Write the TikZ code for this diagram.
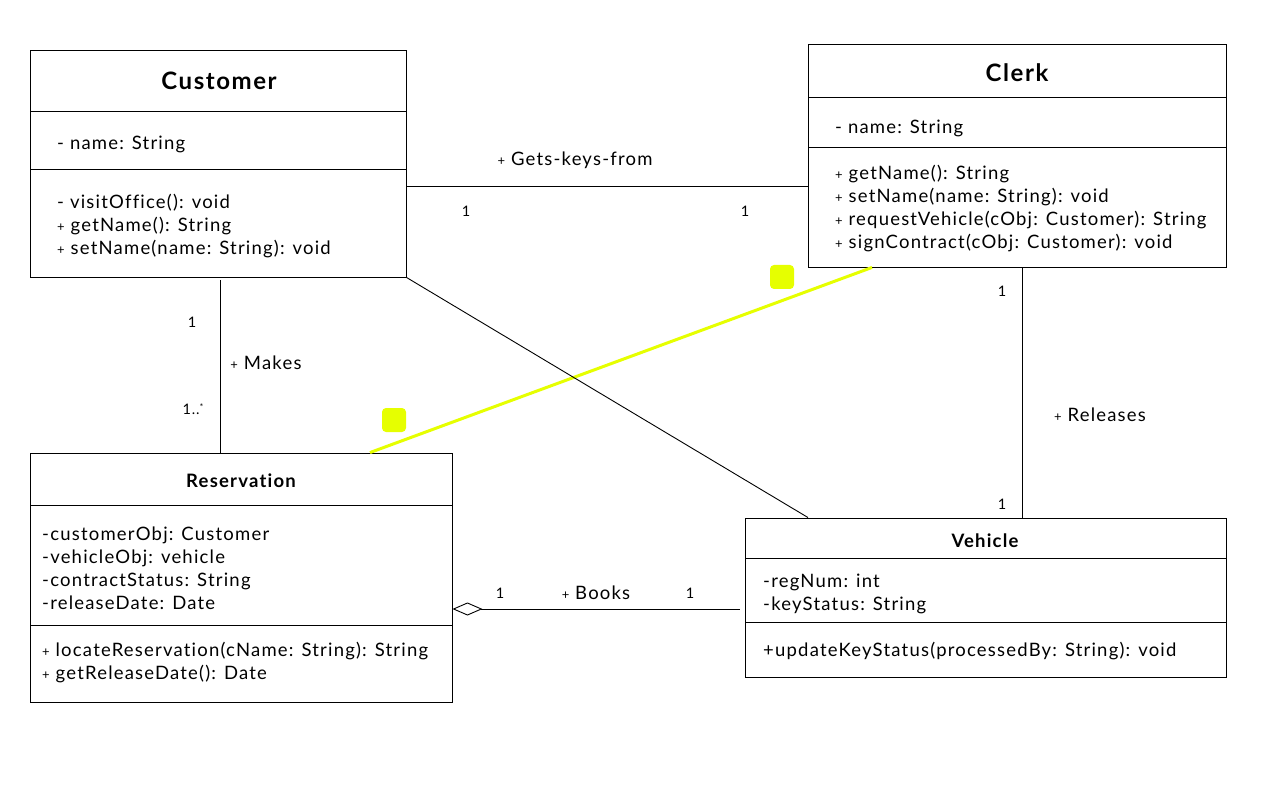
\documentclass[tikz,border=0pt]{standalone}
\usepackage{fontspec}
\setmainfont{Lato}[LetterSpace=6.5,Ligatures={NoCommon,NoRare}]
\usetikzlibrary{arrows.meta}
\definecolor{hl}{HTML}{E6FF00}
\newcommand{\pl}{{\fontsize{13}{13}\selectfont +}}
\tikzset{
  x=1pt,y=-1pt,
  classbox/.style={draw,line width=0.9pt,inner sep=0pt},
  ttl/.style={font=\fontsize{24}{24}\selectfont\bfseries},
  ttls/.style={font=\fontsize{18.5}{18.5}\selectfont\bfseries},
  txt/.style={anchor=west,inner sep=0pt,align=left,font=\fontsize{18.5}{23}\selectfont},
  mult/.style={inner sep=0pt,font=\fontsize{14.5}{14}\selectfont},
  lbl/.style={inner sep=0pt,font=\fontsize{18.5}{18}\selectfont},
  conn/.style={line width=0.9pt},
  hlsq/.style={fill=hl,rounded corners=4pt,minimum size=24pt,inner sep=0pt}
}
\begin{document}
\begin{tikzpicture}
\useasboundingbox (0,0) rectangle (1266,791);
% Customer
\node[classbox,minimum width=376pt,minimum height=227pt] (cust) at (218,163.5) {};
\draw[conn] (30,111) -- (406,111);
\draw[conn] (30,169) -- (406,169);
\node[ttl] (custT) at (219,81) {Customer};
\node[txt] (custA) at (57,144) {- name: String};
\node[txt] (custM) at (57,226) {- visitOffice(): void\\\pl\ getName(): String\\\pl\ setName(name: String): void};
% Clerk
\node[classbox,minimum width=418pt,minimum height=223pt] (clerk) at (1017,155.5) {};
\draw[conn] (808,97) -- (1226,97);
\draw[conn] (808,147) -- (1226,147);
\node[ttl] (clerkT) at (1017,73) {Clerk};
\node[txt] (clerkA) at (835,128) {- name: String};
\node[txt] (clerkM) at (835,208.5) {\pl\ getName(): String\\\pl\ setName(name: String): void\\\pl\ requestVehicle(cObj: Customer): String\\\pl\ signContract(cObj: Customer): void};
% Reservation
\node[classbox,minimum width=422pt,minimum height=249pt] (res) at (241,577.5) {};
\draw[conn] (30,505) -- (452,505);
\draw[conn] (30,625) -- (452,625);
\node[ttls] (resT) at (241,481) {Reservation};
\node[txt] (resA) at (42,568.5) {-customerObj: Customer\\-vehicleObj: vehicle\\-contractStatus: String\\-releaseDate: Date};
\node[txt] (resM) at (42,662.5) {\pl\ locateReservation(cName: String): String\\\pl\ getReleaseDate(): Date};
% Vehicle
\node[classbox,minimum width=481pt,minimum height=159pt] (veh) at (985.5,597.5) {};
\draw[conn] (745,558) -- (1226,558);
\draw[conn] (745,622) -- (1226,622);
\node[ttls] (vehT) at (985,541) {Vehicle};
\node[txt] (vehA) at (763,593.5) {-regNum: int\\-keyStatus: String};
\node[txt] (vehM) at (763,651) {+updateKeyStatus(processedBy: String): void};
% connector helper coordinates
\coordinate (gk) at (0,186);
\coordinate (mk) at (220,0);
\coordinate (rl) at (1022,0);
\coordinate (bk) at (0,609);
\coordinate (dg) at (808,0);
\coordinate (ya) at (370,0);
\coordinate (yb) at (872,0);
% highlight
\draw[hl,line width=3pt] (res.north -| ya) -- (clerk.south -| yb);
\node[hlsq] (sq1) at (782,277) {};
\node[hlsq] (sq2) at (394,420) {};
% Gets-keys-from
\draw[conn] (cust.east |- gk) -- (clerk.west |- gk);
\node[lbl] (l1) at (575,160) {\pl\ Gets-keys-from};
\node[mult] (m1) at (466,211) {1};
\node[mult] (m2) at (745,211) {1};
% Makes
\draw[conn] ([yshift=-3pt]cust.south -| mk) -- (res.north -| mk);
\node[lbl] (l2) at (266,363) {\pl\ Makes};
\node[mult] (m3) at (192,322) {1};
\node[mult] (m4) at (193,409) {1..\raisebox{4pt}{\fontsize{9}{9}\selectfont *}};
% Customer - Vehicle
\draw[conn] (cust.south east) -- (veh.north -| dg);
% Releases
\draw[conn] (clerk.south -| rl) -- (veh.north -| rl);
\node[lbl] (l3) at (1100,415) {\pl\ Releases};
\node[mult] (m5) at (1002,291) {1};
\node[mult] (m6) at (1002,504) {1};
% Books
\draw[conn,{Diamond[open,length=30pt,width=13pt,line width=0.9pt]}-] (res.east |- bk) -- ([xshift=-5pt]veh.west |- bk);
\node[lbl] (l4) at (596,593) {\pl\ Books};
\node[mult] (m7) at (500,593) {1};
\node[mult] (m8) at (690,593) {1};
\end{tikzpicture}
\end{document}
